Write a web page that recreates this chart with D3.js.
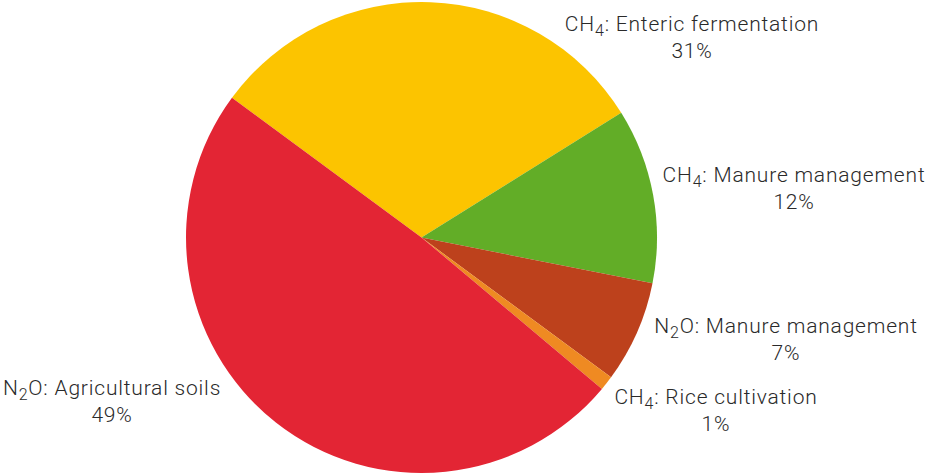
<!DOCTYPE html>
<html><head><meta charset="utf-8">
<script src="https://cdn.jsdelivr.net/npm/d3@7"></script>
<style>
html,body{margin:0;padding:0;background:#fff;}
svg{display:block;}
text{font-family:Roboto,"Noto Sans",sans-serif;fill:#2a2a2a;}
</style></head>
<body>
<svg id="c" width="928" height="474"></svg>
<script>
const gases = ["CH4", "CH4", "N2O", "CH4", "N2O"];
const sources = ["Enteric fermentation", "Manure management", "Manure management", "Rice cultivation", "Agricultural soils"];
const values = [31, 12, 7, 1, 49];
const colors = ["#FCC400", "#62AD27", "#BD411C", "#EF8A22", "#E32534"];
// label anchor (layout) positions: centre x, baseline y of first line
const labelX = [692, 794, 786, 716, 112];
const labelY = [31, 182, 333, 404, 395];

const W = 928, H = 474;
const cx = 421.5, cy = 237.5, R = 235.5;
const svg = d3.select("#c");
const g = svg.append("g").attr("transform", `translate(${cx},${cy})`);

const startA = -53.6 * Math.PI / 180;
const pie = d3.pie().sort(null).value(d => d.v)
  .startAngle(startA).endAngle(startA + 2 * Math.PI);
const data = values.map((v, i) => ({v, i}));
const arcs = pie(data);
const arc = d3.arc().innerRadius(0).outerRadius(R);

g.selectAll("path").data(arcs).join("path")
  .attr("d", arc)
  .attr("fill", d => colors[d.data.i]);

const fs = 21;
const lab = svg.append("g").attr("font-weight", 300).attr("letter-spacing", 0.8);
data.forEach((d, i) => {
  const t = lab.append("text")
    .attr("x", labelX[i]).attr("y", labelY[i])
    .attr("text-anchor", "middle")
    .attr("font-size", fs);
  const gas = gases[i];
  const m = gas.match(/^([A-Z]+)(\d)(.*)$/);
  t.append("tspan").text(m[1]);
  t.append("tspan").attr("font-size", 16).attr("dy", 5).text(m[2]);
  t.append("tspan").attr("dy", -5).text(m[3] + ": " + sources[i]);
  lab.append("text")
    .attr("x", labelX[i]).attr("y", labelY[i] + 27)
    .attr("text-anchor", "middle")
    .attr("font-size", fs)
    .text(values[i] + "%");
});
</script>
</body></html>
